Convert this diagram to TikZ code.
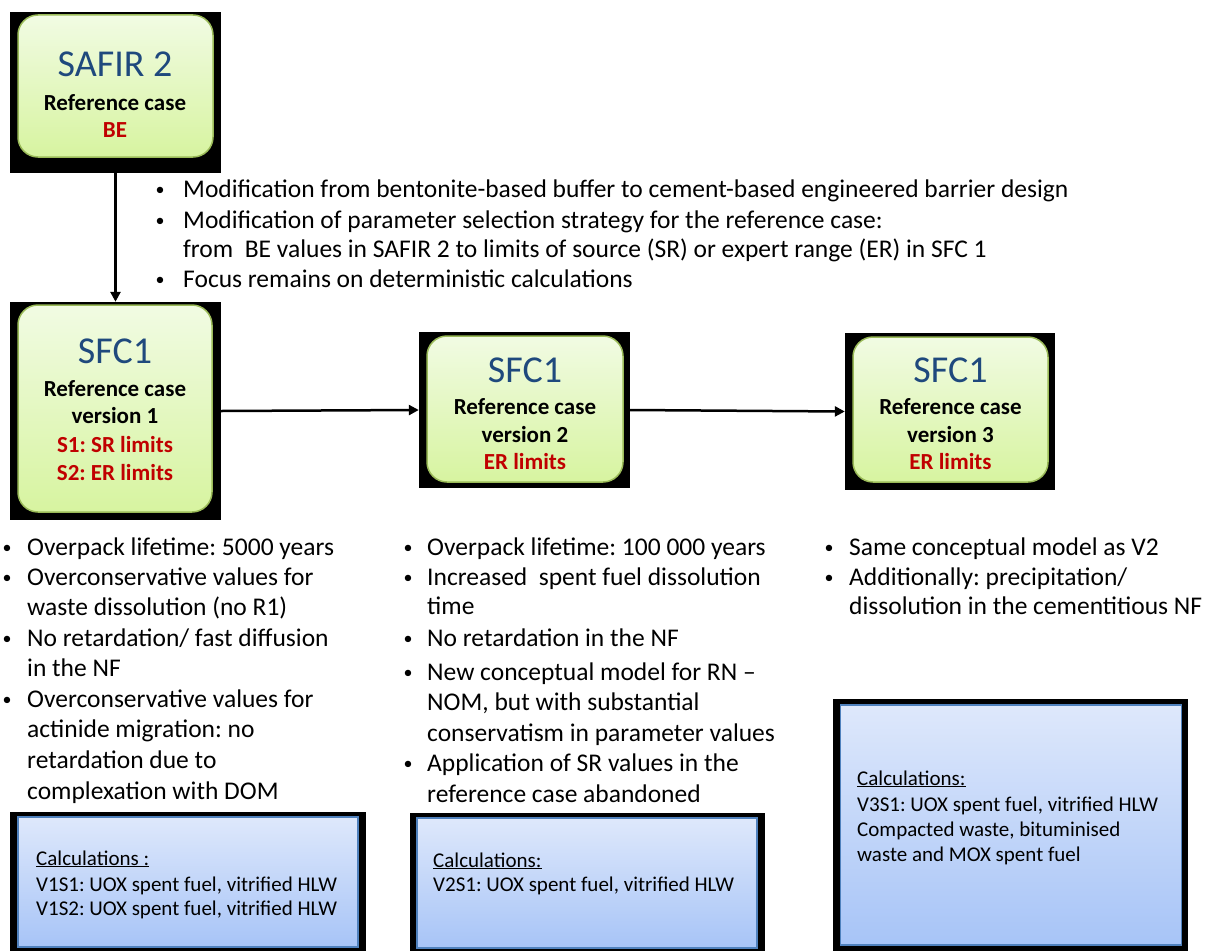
\documentclass[tikz,border=0pt]{standalone}
\usepackage{fontspec}
\setmainfont{Carlito}
\usetikzlibrary{arrows.meta}
\definecolor{tblue}{HTML}{1F497D}
\definecolor{tred}{HTML}{C00000}
\definecolor{gtop}{HTML}{F1FBE3}
\definecolor{gbot}{HTML}{D7F4A0}
\definecolor{gbord}{HTML}{9BBB59}
\definecolor{btop}{HTML}{DEE8FB}
\definecolor{bbot}{HTML}{A7C4F7}
\definecolor{bbord}{HTML}{4F81BD}
\frenchspacing
\begin{document}
\begin{tikzpicture}[x=1pt,y=-1pt,
  blk/.style={fill=black, draw=none, inner sep=0pt},
  gbox/.style={rounded corners=20pt, top color=gtop, bottom color=gbot, draw=gbord, line width=1.5pt, inner sep=0pt},
  cbox/.style={top color=btop, bottom color=bbot, draw=bbord, line width=1.5pt, inner sep=0pt},
  ttl/.style={anchor=base, inner sep=0pt, text=tblue, font=\fontsize{38}{44}\selectfont},
  bl/.style={anchor=base, inner sep=0pt, font=\bfseries\fontsize{23}{27}\selectfont},
  rl/.style={bl, text=tred},
  txt/.style={anchor=base west, inner sep=0pt, font=\fontsize{25.5}{30}\selectfont},
  bul/.style={anchor=base, inner sep=0pt, font=\fontsize{18}{22}\selectfont},
  ctxt/.style={anchor=base west, inner sep=0pt, font=\fontsize{21}{25}\selectfont},
  arr/.style={-{Triangle[length=10pt,width=10pt]}, line width=2.5pt}
]
\useasboundingbox (0,0) rectangle (1214,950);

% ---- SAFIR 2 box
\node[blk, minimum width=211pt, minimum height=161pt] (s2) at (115.5,92.5) {};
\node[gbox, minimum width=195pt, minimum height=142pt] (s2g) at (115.5,86) {};
\node[ttl] (s2a) at (115,77) {SAFIR 2};
\node[bl] (s2b) at (115,110) {Reference case};
\node[rl] (s2c) at (115,137) {BE};

% ---- SFC1 v1
\node[blk, minimum width=211pt, minimum height=218pt] (v1) at (115.5,411) {};
\node[gbox, minimum width=194pt, minimum height=207pt] (v1g) at (115,408.5) {};
\node[ttl] (v1a) at (115,363) {SFC1};
\node[bl] (v1b) at (115,396) {Reference case};
\node[bl] (v1c) at (115,423) {version 1};
\node[rl] (v1d) at (115,452) {S1: SR limits};
\node[rl] (v1e) at (115,480) {S2: ER limits};

% ---- SFC1 v2
\node[blk, minimum width=211pt, minimum height=156pt] (v2) at (524.5,410) {};
\node[gbox, minimum width=196pt, minimum height=146pt] (v2g) at (525,409) {};
\node[ttl] (v2a) at (525,382) {SFC1};
\node[bl] (v2b) at (525,414) {Reference case};
\node[bl] (v2c) at (525,442) {version 2};
\node[rl] (v2d) at (525,469) {ER limits};

% ---- SFC1 v3
\node[blk, minimum width=210pt, minimum height=157pt] (v3) at (950,411.5) {};
\node[gbox, minimum width=195pt, minimum height=145pt] (v3g) at (950.5,409.5) {};
\node[ttl] (v3a) at (950.5,382) {SFC1};
\node[bl] (v3b) at (950.5,414) {Reference case};
\node[bl] (v3c) at (950.5,442) {version 3};
\node[rl] (v3d) at (950.5,469) {ER limits};

% ---- connectors
\draw[arr] (s2.south) -- (v1.north);
\draw[arr] (v1.east) -- (v2.west);
\draw[arr] (v2.east) -- (v3.west);

% ---- top bullet list
\node[bul] (tb1) at (160,195) {•};
\node[txt] (tt1) at (183,197) {Modification from bentonite-based buffer to cement-based engineered barrier design};
\node[bul] (tb2) at (160,226) {•};
\node[txt] (tt2) at (183,228) {Modification of parameter selection strategy for the reference case:};
\node[txt] (tt3) at (183,257) {from\ \ BE values in SAFIR 2 to limits of source (SR) or expert range (ER) in SFC 1};
\node[bul] (tb4) at (160,285) {•};
\node[txt] (tt4) at (183,287) {Focus remains on deterministic calculations};

% ---- left bullet list
\node[bul] (lb1) at (7,553) {•};
\node[txt] (lt1) at (27,555) {Overpack lifetime: 5000 years};
\node[bul] (lb2) at (7,583) {•};
\node[txt] (lt2) at (27,585) {Overconservative values for};
\node[txt] (lt3) at (27,615) {waste dissolution (no R1)};
\node[bul] (lb4) at (7,644) {•};
\node[txt] (lt4) at (27,646) {No retardation/ fast diffusion};
\node[txt] (lt5) at (27,676) {in the NF};
\node[bul] (lb6) at (7,705) {•};
\node[txt] (lt6) at (27,707) {Overconservative values for};
\node[txt] (lt7) at (27,737) {actinide migration: no};
\node[txt] (lt8) at (27,768) {retardation due to};
\node[txt] (lt9) at (27,799) {complexation with DOM};

% ---- middle bullet list
\node[bul] (mb1) at (408,553) {•};
\node[txt] (mt1) at (427,555) {Overpack lifetime: 100 000 years};
\node[bul] (mb2) at (408,583) {•};
\node[txt] (mt2) at (427,585) {Increased\ \ spent fuel dissolution};
\node[txt] (mt3) at (427,614) {time};
\node[bul] (mb4) at (408,644) {•};
\node[txt] (mt4) at (427,646) {No retardation in the NF};
\node[bul] (mb5) at (408,678) {•};
\node[txt] (mt5) at (427,680) {New conceptual model for RN –};
\node[txt] (mt6) at (427,710) {NOM, but with substantial};
\node[txt] (mt7) at (427,741) {conservatism in parameter values};
\node[bul] (mb8) at (408,769) {•};
\node[txt] (mt8) at (427,771) {Application of SR values in the};
\node[txt] (mt9) at (427,802) {reference case abandoned};

% ---- right bullet list
\node[bul] (rb1) at (829,553) {•};
\node[txt] (rt1) at (849,555) {Same conceptual model as V2};
\node[bul] (rb2) at (829,583) {•};
\node[txt] (rt2) at (849,585) {Additionally: precipitation/};
\node[txt] (rt3) at (849,614) {dissolution in the cementitious NF};

% ---- calculation boxes
\node[blk, minimum width=356pt, minimum height=140pt] (c1) at (188,882) {};
\node[cbox, minimum width=340pt, minimum height=130pt] (c1b) at (188,882) {};
\node[ctxt] (c1a) at (36,865) {\underline{Calculations :}};
\node[ctxt] (c1c) at (36,891) {V1S1: UOX spent fuel, vitrified HLW};
\node[ctxt] (c1d) at (36,915) {V1S2: UOX spent fuel, vitrified HLW};

\node[blk, minimum width=355pt, minimum height=139pt] (c2) at (587.5,882.5) {};
\node[cbox, minimum width=340pt, minimum height=130pt] (c2b) at (587,883) {};
\node[ctxt] (c2a) at (433,867) {\underline{Calculations:}};
\node[ctxt] (c2c) at (433,891) {V2S1: UOX spent fuel, vitrified HLW};

\node[blk, minimum width=355pt, minimum height=253pt] (c3) at (1010.5,825.5) {};
\node[cbox, minimum width=341pt, minimum height=240pt] (c3b) at (1011,825) {};
\node[ctxt] (c3a) at (857,785) {\underline{Calculations:}};
\node[ctxt] (c3c) at (857,811) {V3S1: UOX spent fuel, vitrified HLW};
\node[ctxt] (c3d) at (857,836) {Compacted waste, bituminised};
\node[ctxt] (c3e) at (857,861) {waste and MOX spent fuel};
\end{tikzpicture}
\end{document}
